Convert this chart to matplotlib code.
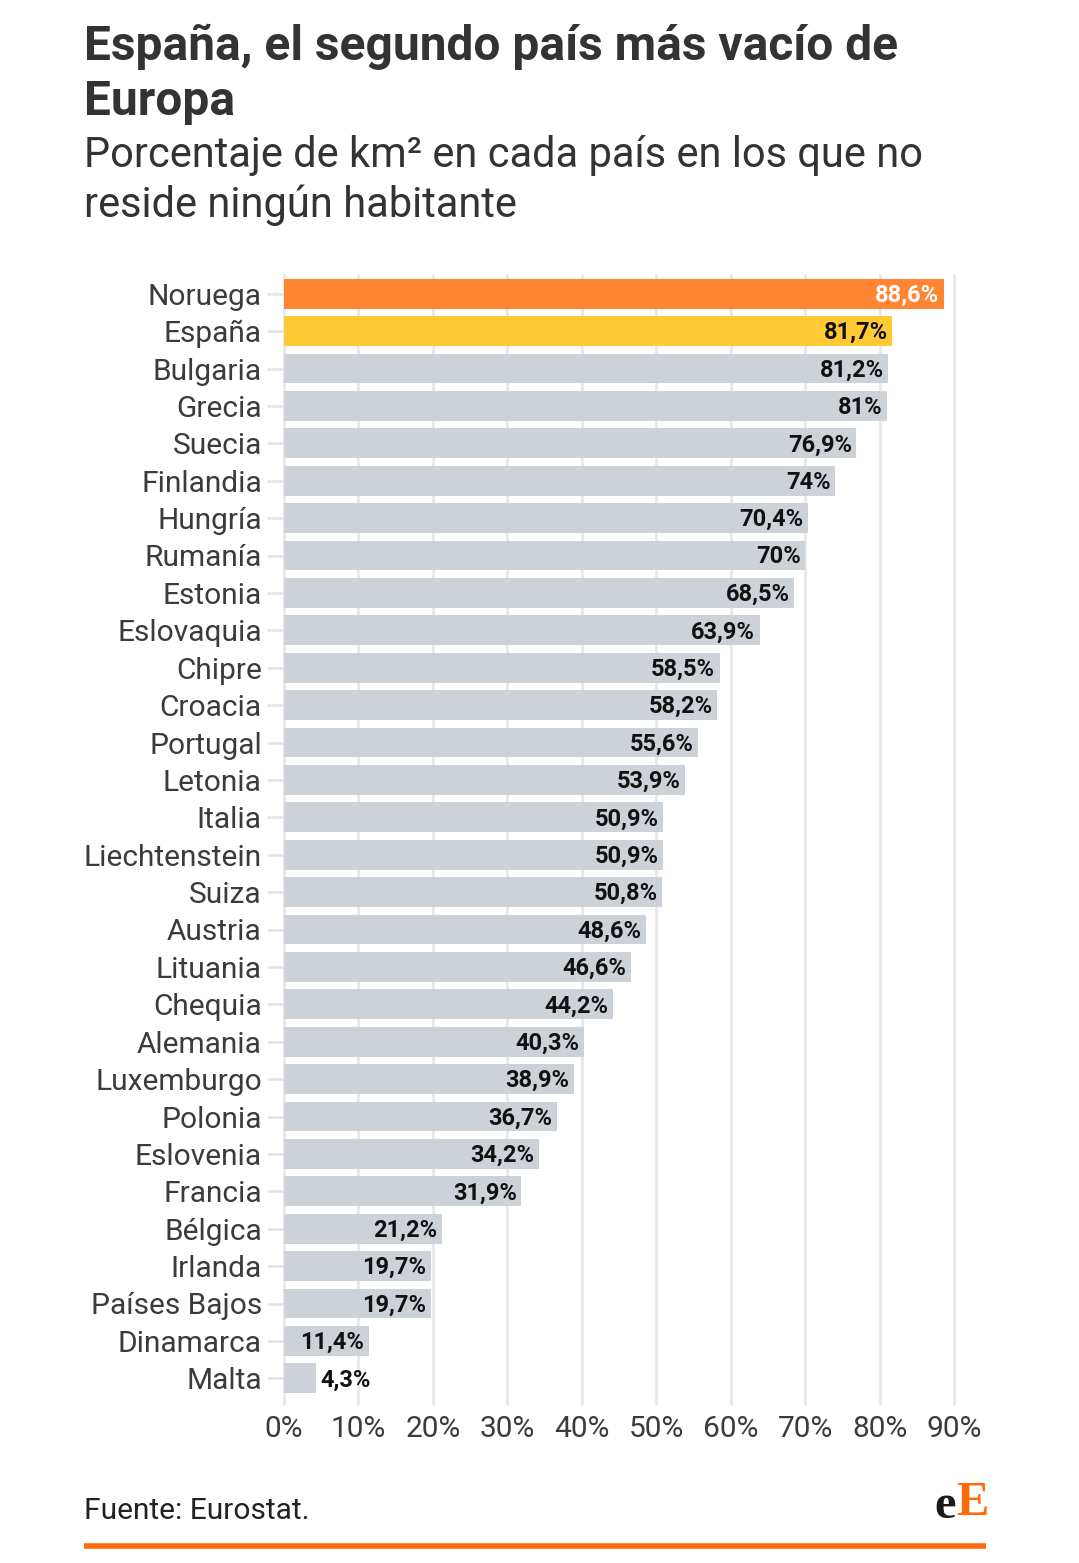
import matplotlib.pyplot as plt
import numpy as np

plt.rcParams['font.family'] = ['Roboto', 'DejaVu Sans']

countries = ['Noruega', 'España', 'Bulgaria', 'Grecia', 'Suecia', 'Finlandia',
             'Hungría', 'Rumanía', 'Estonia', 'Eslovaquia', 'Chipre', 'Croacia',
             'Portugal', 'Letonia', 'Italia', 'Liechtenstein', 'Suiza', 'Austria',
             'Lituania', 'Chequia', 'Alemania', 'Luxemburgo', 'Polonia',
             'Eslovenia', 'Francia', 'Bélgica', 'Irlanda', 'Países Bajos',
             'Dinamarca', 'Malta']
values = [88.6, 81.7, 81.2, 81, 76.9, 74, 70.4, 70, 68.5, 63.9, 58.5, 58.2,
          55.6, 53.9, 50.9, 50.9, 50.8, 48.6, 46.6, 44.2, 40.3, 38.9, 36.7,
          34.2, 31.9, 21.2, 19.7, 19.7, 11.4, 4.3]
x_ticks = [0, 10, 20, 30, 40, 50, 60, 70, 80, 90]

ORANGE = '#FF8533'
YELLOW = '#FFCA33'
GREY = '#CDD1D8'
TEXT = '#3b3b3b'

colors = [ORANGE, YELLOW] + [GREY] * (len(values) - 2)


def fmt(v):
    s = ('%.1f' % v).rstrip('0').rstrip('.')
    return s.replace('.', ',') + '%'


W, H = 1079, 1563
fig = plt.figure(figsize=(W / 100, H / 100), dpi=100)
fig.patch.set_facecolor('white')

ax = fig.add_axes([284 / W, 1 - 1397 / H, 670 / W, (1397 - 275) / H])
y = np.arange(len(values))
ax.barh(y, values, height=0.8, color=colors, zorder=2)
ax.set_xlim(0, 90)
ax.set_ylim(len(values) - 0.5, -0.5)

for i, v in enumerate(values):
    label = fmt(v)
    if v < 8:
        ax.text(v + 0.6, i + 0.04, label, ha='left', va='center', fontsize=17,
                fontweight='bold', color='#111111', zorder=3)
    else:
        c = 'white' if i == 0 else '#111111'
        ax.text(v - 0.6, i + 0.04, label, ha='right', va='center', fontsize=17,
                fontweight='bold', color=c, zorder=3)

ax.set_yticks(y)
ax.set_yticklabels(countries, fontsize=21.5, color=TEXT)
ax.set_xticks(x_ticks)
ax.set_xticklabels([f'{t}%' for t in x_ticks], fontsize=21.5, color=TEXT)
ax.tick_params(axis='y', length=12, width=2, color='#e6e6e6', pad=4)
ax.tick_params(axis='x', length=0, pad=13)
for s in ax.spines.values():
    s.set_visible(False)

for t in x_ticks:
    ax.plot([t, t], [-0.5, len(values) - 0.3], color='#e8e8e8', lw=2,
            zorder=1, clip_on=False)

fig.text(84 / W, 1 - 47 / H, 'España, el segundo país más vacío de', fontsize=34.5,
         fontweight='bold', color='#333333', va='center', ha='left')
fig.text(84 / W, 1 - 102 / H, 'Europa', fontsize=34.5,
         fontweight='bold', color='#333333', va='center', ha='left')
fig.text(84 / W, 1 - 156 / H, 'Porcentaje de km² en cada país en los que no',
         fontsize=30, color='#333333', va='center', ha='left')
fig.text(84 / W, 1 - 205 / H, 'reside ningún habitante',
         fontsize=30, color='#333333', va='center', ha='left')

fig.text(84 / W, 1 - 1511 / H, 'Fuente: Eurostat.', fontsize=21.5,
         color='#222222', va='center', ha='left')

fig.text(956 / W, 1 - 1506 / H, 'e', fontsize=35, fontweight='bold',
         family='Liberation Serif', color='#1a1a1a', va='center', ha='right')
fig.text(956 / W, 1 - 1503 / H, 'E', fontsize=35, fontweight='bold',
         family='Liberation Serif', color='#FF6B0A', va='center', ha='left')

fig.add_artist(plt.Line2D([84 / W, 986 / W], [1 - 1546 / H, 1 - 1546 / H],
                          color='#FF6B0A', lw=4, solid_capstyle='butt'))

fig.savefig('out.png', dpi=100, facecolor='white')
